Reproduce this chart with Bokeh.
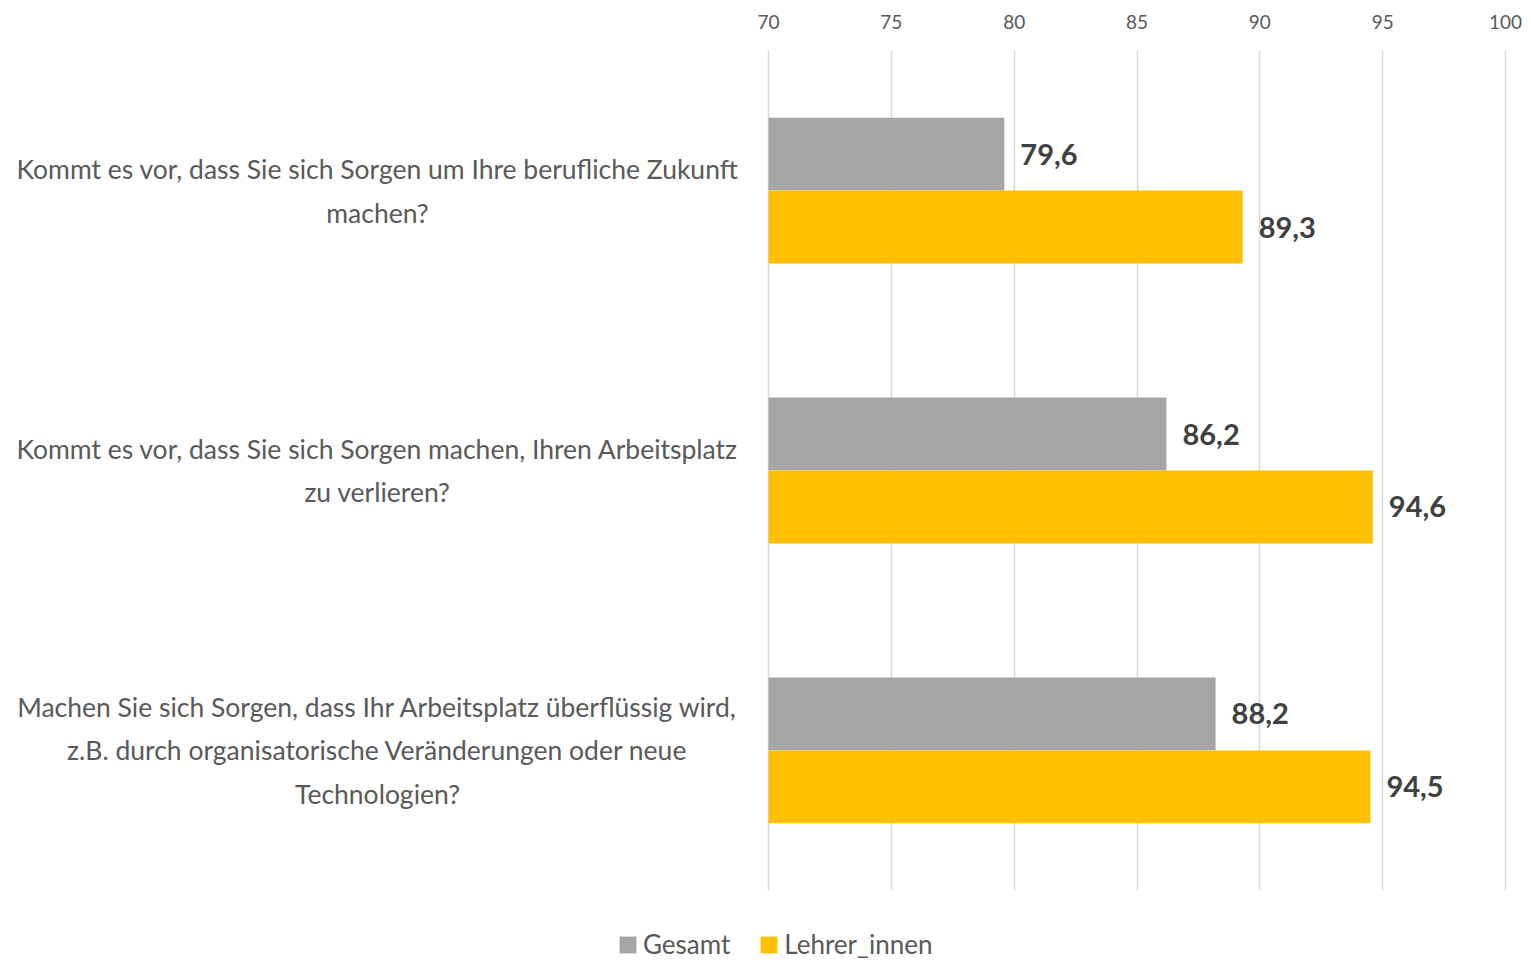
from bokeh.plotting import figure
from bokeh.layouts import column
from bokeh.models import (FactorRange, ColumnDataSource, Legend, LegendItem,
                          FixedTicker, Range1d)
from bokeh.embed import file_html
from bokeh.resources import INLINE
from bokeh.core.properties import value

# ---------------- data ----------------
questions = [
    "Kommt es vor, dass Sie sich Sorgen um Ihre berufliche Zukunft\nmachen?",
    "Kommt es vor, dass Sie sich Sorgen machen, Ihren Arbeitsplatz\nzu verlieren?",
    "Machen Sie sich Sorgen, dass Ihr Arbeitsplatz überflüssig wird,\nz.B. durch organisatorische Veränderungen oder neue\nTechnologien?",
]
series = ["Gesamt", "Lehrer_innen"]
gesamt = [79.6, 86.2, 88.2]
lehrer = [89.3, 94.6, 94.5]
ticks = [70, 75, 80, 85, 90, 95, 100]

colors = {"Gesamt": "#A5A5A5", "Lehrer_innen": "#FFC000"}
FONT = "Lato"

# ---------------- layout constants (pixels) ----------------
W = 1531
MAIN_H, LEG_H = 890, 70
AXIS_LEFT = 768           # pixel position of value 70
AXIS_RIGHT = 1505         # pixel position of value 100
TOP = 50
px_per_unit = (AXIS_RIGHT - AXIS_LEFT) / (ticks[-1] - ticks[0])
x_start = ticks[0] - AXIS_LEFT / px_per_unit
x_end = ticks[-1] + (W - AXIS_RIGHT) / px_per_unit
label_x = x_start + 377 / px_per_unit

# ---------------- ranges ----------------
factors = []
for q in reversed(questions):
    for s in reversed(series):
        factors.append((q, s))

y_range = FactorRange(*factors, factor_padding=0.0, group_padding=1.836,
                      range_padding=0.92, range_padding_units="absolute")
x_range = Range1d(x_start, x_end)

p = figure(width=W, height=MAIN_H, x_range=x_range, y_range=y_range,
           x_axis_location="above", y_axis_location=None,
           output_backend="svg", toolbar_location=None,
           min_border_left=0, min_border_right=0,
           min_border_top=TOP, min_border_bottom=0)
p.outline_line_color = None

sources = {}
for s, vals in zip(series, [gesamt, lehrer]):
    src = ColumnDataSource(dict(
        y=[(q, s) for q in questions],
        v=vals,
        lbl=[f"{v:.1f}".replace(".", ",") for v in vals],
    ))
    sources[s] = src
    p.hbar(y="y", left=ticks[0], right="v", height=1.0, source=src,
           fill_color=colors[s], line_color=None)
    p.text(x="v", y="y", text="lbl", source=src, x_offset=16,
           text_align="left", text_baseline="middle",
           text_font=value(FONT), text_font_size="29px", text_font_style="bold",
           text_color="#404040")

ax = p.xaxis[0]
ax.ticker = FixedTicker(ticks=ticks)
ax.axis_line_color = None
ax.major_tick_line_color = None
ax.minor_tick_line_color = None
ax.major_tick_out = 0
ax.major_tick_in = 0
ax.major_label_standoff = 22
ax.major_label_text_font = FONT
ax.major_label_text_font_size = "19px"
ax.major_label_text_color = "#595959"

p.xgrid.ticker = FixedTicker(ticks=ticks)
p.xgrid.grid_line_color = "#D9D9D9"
p.xgrid.grid_line_width = 1.5
p.ygrid.grid_line_color = None

# ---------------- category labels ----------------
lab_src = ColumnDataSource(dict(y=questions, t=questions, x=[label_x] * len(questions)))
p.text(x="x", y="y", text="t", source=lab_src, text_align="center", text_baseline="middle",
       text_font=value(FONT), text_font_size="26.5px", text_color="#595959",
       text_line_height=1.37)

# ---------------- legend (own strip below the chart) ----------------
leg = figure(width=W, height=LEG_H, x_range=x_range, y_range=y_range,
             x_axis_location=None, y_axis_location=None,
             output_backend="svg", toolbar_location=None, min_border=0)
leg.outline_line_color = None
leg.grid.grid_line_color = None
leg_items = []
for s in series:
    r = leg.hbar(y="y", left=ticks[0], right="v", height=1.0, source=sources[s],
                 fill_color=colors[s], line_color=None, visible=False)
    leg_items.append(LegendItem(label=s, renderers=[r]))
legend = Legend(items=leg_items, orientation="horizontal", location=(617, 0),
                glyph_width=21, glyph_height=21, label_standoff=5, spacing=28,
                padding=0, margin=0, border_line_color=None, background_fill_alpha=0,
                inactive_fill_alpha=0,
                label_text_font=FONT, label_text_font_size="26px",
                label_text_color="#595959")
leg.add_layout(legend, "center")

layout = column(p, leg, spacing=0)
open("out.html", "w").write(file_html(layout, INLINE))
